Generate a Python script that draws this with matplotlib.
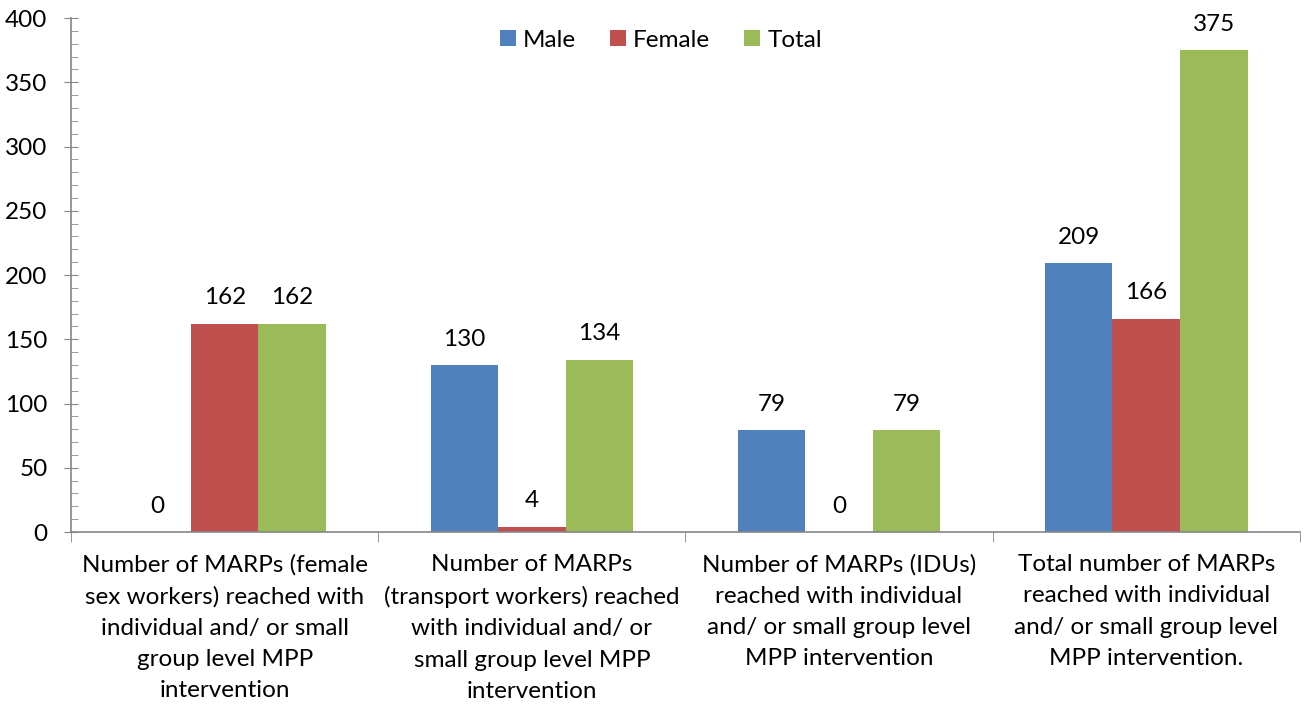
import numpy as np
import matplotlib.pyplot as plt
from matplotlib.ticker import MultipleLocator

plt.rcParams['font.family'] = ['Lato', 'DejaVu Sans']

categories = [
    "Number of MARPs (female\nsex workers) reached with\nindividual and/ or small\ngroup level MPP\nintervention",
    "Number of MARPs\n(transport workers) reached\nwith individual and/ or\nsmall group level MPP\nintervention",
    "Number of MARPs (IDUs)\nreached with individual\nand/ or small group level\nMPP intervention",
    "Total number of MARPs\nreached with individual\nand/ or small group level\nMPP intervention.",
]
male = [0, 130, 79, 209]
female = [162, 4, 0, 166]
total = [162, 134, 79, 375]

series = [("Male", male, "#4F81BD"), ("Female", female, "#C0504D"), ("Total", total, "#9BBB59")]

fs = 17.5

fig = plt.figure(figsize=(13.05, 7.1), dpi=100)
ax = fig.add_axes([0.0545, 0.2507, 0.9415, 0.7239])

x = np.arange(len(categories))
w = 0.22
for i, (name, vals, col) in enumerate(series):
    pos = x + (i - 1) * w
    ax.bar(pos, vals, width=w, color=col, label=name, edgecolor='none')
    for p, v in zip(pos, vals):
        ax.text(p, v + 12, str(v), ha='center', va='bottom', fontsize=fs)

ax.set_xlim(-0.5, len(categories) - 0.5)
ax.set_ylim(0, 400)
ax.yaxis.set_major_locator(MultipleLocator(50))
ax.yaxis.set_minor_locator(MultipleLocator(10))

ax.set_xticks(x)
ax.set_xticklabels(categories, fontsize=fs, linespacing=1.6)
ax.set_xticks(np.arange(len(categories) + 1) - 0.5, minor=True)
ax.tick_params(axis='x', which='major', length=0, pad=16)
ax.tick_params(axis='x', which='minor', length=7, color='#868686', direction='out')
ax.tick_params(axis='y', which='major', length=10, direction='inout', color='#868686', labelsize=fs, pad=12)
ax.tick_params(axis='y', which='minor', length=5, direction='in', color='#868686')

for s in ['top', 'right']:
    ax.spines[s].set_visible(False)
for s in ['left', 'bottom']:
    ax.spines[s].set_color('#868686')
    ax.spines[s].set_linewidth(1.2)

ax.legend(loc='upper center', bbox_to_anchor=(0.48, 1.02), ncol=3, frameon=False,
          fontsize=fs, handlelength=0.65, handleheight=0.65, handletextpad=0.3, columnspacing=1.4)

fig.savefig("out.png", dpi=100)
